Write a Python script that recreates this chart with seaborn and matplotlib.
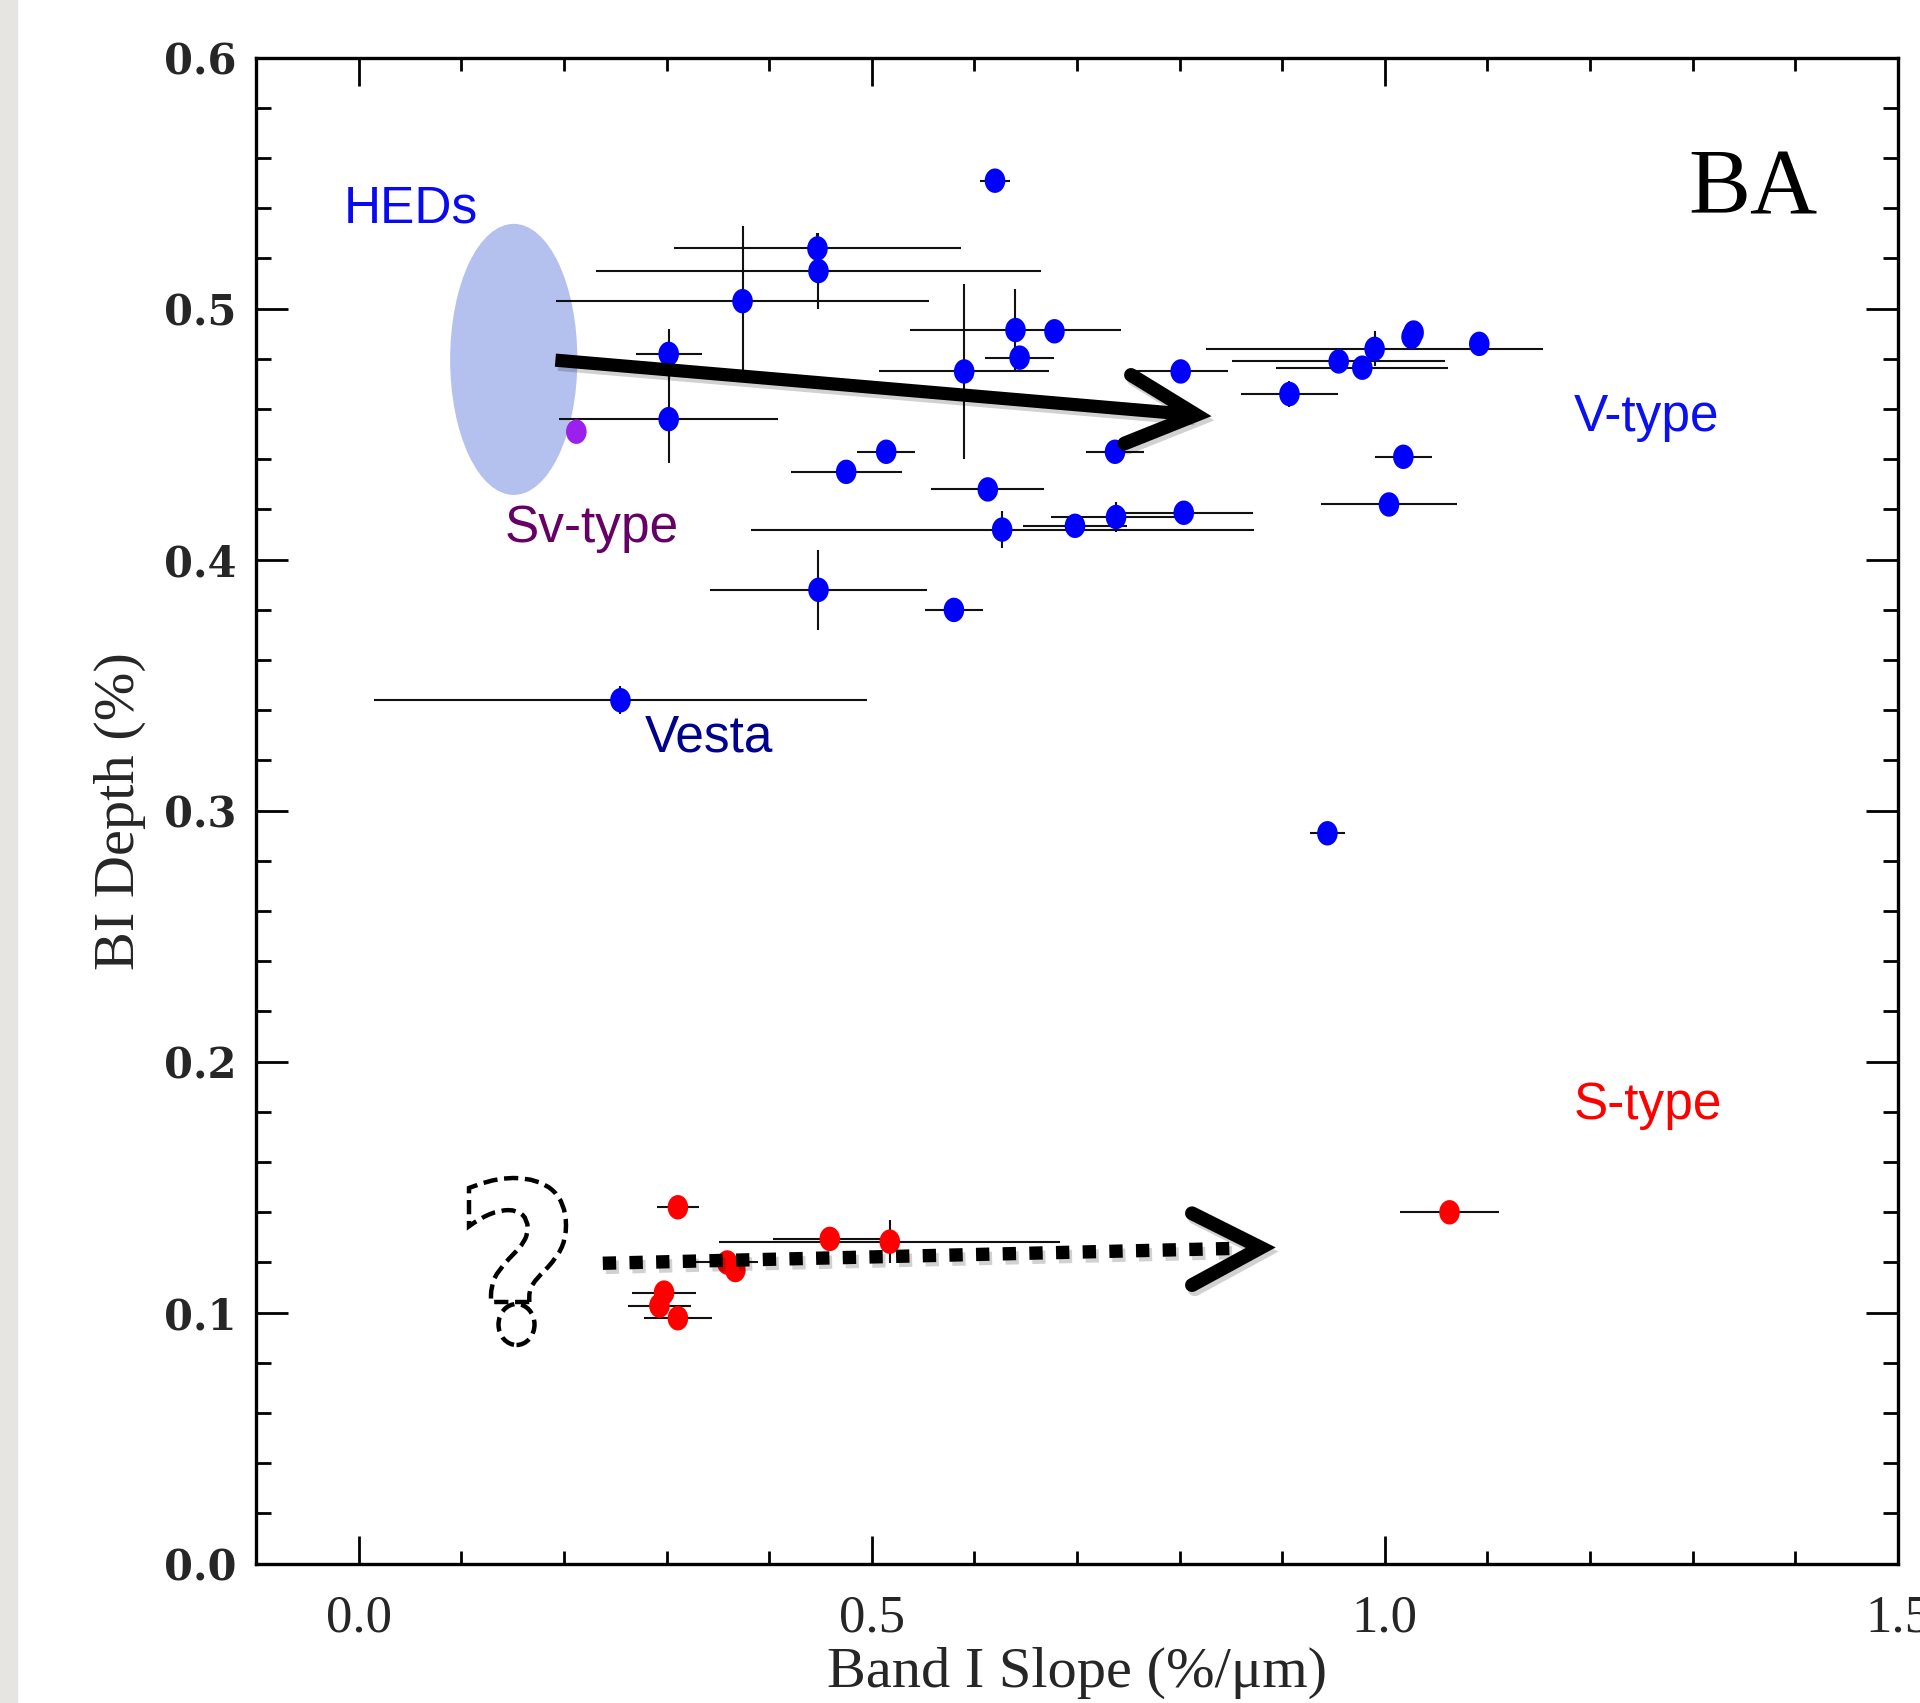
import matplotlib
matplotlib.use('Agg')
import matplotlib.pyplot as plt
import matplotlib.patheffects as pe
from matplotlib.patches import Ellipse, PathPatch, Rectangle
from matplotlib.path import Path
from matplotlib.textpath import TextPath
from matplotlib.font_manager import FontProperties
from matplotlib.transforms import Affine2D
from matplotlib.ticker import MultipleLocator, FormatStrFormatter
from matplotlib.markers import MarkerStyle
import seaborn as sns
import numpy as np
import pandas as pd

# V-type asteroids (blue)
blue_slope = [0.620, 0.447, 0.448, 0.374, 0.302, 0.302, 0.514, 0.475, 0.613, 0.627,
              0.698, 0.738, 0.590, 0.640, 0.678, 0.644, 0.737, 0.801, 0.907, 0.990,
              0.955, 0.978, 1.026, 1.028, 1.092, 1.018, 1.004, 0.804, 0.580, 0.448,
              0.255, 0.944]
blue_depth = [0.551, 0.524, 0.515, 0.503, 0.482, 0.456, 0.443, 0.435, 0.428, 0.412,
              0.4135, 0.417, 0.475, 0.4915, 0.491, 0.4805, 0.443, 0.475, 0.466, 0.484,
              0.479, 0.4765, 0.4888, 0.4905, 0.486, 0.441, 0.422, 0.4187, 0.380, 0.388,
              0.344, 0.291]
blue_slope_err = [0.015, 0.140, 0.217, 0.182, 0.032, 0.107, 0.0285, 0.054, 0.055, 0.245,
                  0.051, 0.063, 0.083, 0.103, 0.0, 0.034, 0.0285, 0.046, 0.047, 0.164,
                  0.104, 0.084, 0.0, 0.0, 0.0, 0.028, 0.066, 0.067, 0.028, 0.106,
                  0.240, 0.017]
blue_depth_err = [0.0, 0.006, 0.015, 0.030, 0.010, 0.0176, 0.0, 0.0, 0.0, 0.0075,
                  0.0, 0.006, 0.035, 0.0165, 0.0, 0.0, 0.0, 0.0, 0.005, 0.007,
                  0.0, 0.0, 0.0, 0.0, 0.0, 0.0, 0.0, 0.0, 0.0, 0.016,
                  0.0056, 0.0]

# S-type asteroids (red)
red_slope = [0.311, 0.459, 0.5175, 0.359, 0.367, 0.2975, 0.293, 0.311, 1.063]
red_depth = [0.142, 0.1294, 0.1283, 0.120, 0.117, 0.108, 0.1028, 0.0978, 0.140]
red_slope_err = [0.0205, 0.055, 0.166, 0.03, 0.0, 0.031, 0.031, 0.0335, 0.0485]
red_depth_err = [0.0, 0.0, 0.0086, 0.0, 0.0, 0.0, 0.0, 0.0, 0.0]

# Sv-type (purple)
sv_slope = [0.212]
sv_depth = [0.451]

x_ticks = [0.0, 0.5, 1.0, 1.5]
y_ticks = [0.0, 0.1, 0.2, 0.3, 0.4, 0.5, 0.6]

df = pd.DataFrame({
    'slope': blue_slope + red_slope + sv_slope,
    'depth': blue_depth + red_depth + sv_depth,
    'kind': ['V'] * len(blue_slope) + ['S'] * len(red_slope) + ['Sv'] * len(sv_slope),
})

sns.set_style('ticks')
plt.rcParams['font.family'] = ['Liberation Serif', 'DejaVu Serif']

fig = plt.figure(figsize=(19.2, 17.03), dpi=100)
fig.add_artist(Rectangle((0, 0), 17 / 1920, 1, transform=fig.transFigure,
                         color='#e6e5e1', zorder=0))
ax = fig.add_axes([0.13344, 0.08180, 0.85505, 0.88432])

# HED region
ax.add_patch(Ellipse((0.151, 0.4798), 0.124, 0.108, color='#b4c1ee', zorder=1, lw=0))

# error bars
ax.errorbar(blue_slope, blue_depth, xerr=blue_slope_err, yerr=blue_depth_err,
            fmt='none', ecolor='#111111', elinewidth=1.5, capsize=0, zorder=2)
ax.errorbar(red_slope, red_depth, xerr=red_slope_err, yerr=red_depth_err,
            fmt='none', ecolor='#111111', elinewidth=1.5, capsize=0, zorder=2)

# slightly tall elliptical markers
t = np.linspace(0, 2 * np.pi, 60)
ell = MarkerStyle(np.column_stack([0.84 * np.cos(t), np.sin(t)]))
sns.scatterplot(data=df, x='slope', y='depth', hue='kind',
                palette={'V': '#0000ff', 'S': '#ff0000', 'Sv': '#9b20ee'},
                marker=ell, s=310, linewidth=0, legend=False, ax=ax, zorder=4)

# arrows
shadow = [pe.SimpleLineShadow(offset=(2, -3), shadow_color='k', alpha=0.18), pe.Normal()]
ax.plot([0.1916, 0.812], [0.4795, 0.4578], color='k', lw=9.5,
        solid_capstyle='butt', zorder=5, path_effects=shadow)
ax.plot([0.7526, 0.816, 0.7462], [0.4736, 0.4577, 0.4463], color='k', lw=10,
        solid_capstyle='round', solid_joinstyle='miter', zorder=5, path_effects=shadow)

ax.plot([0.2378, 0.852], [0.1197, 0.1256], color='k', lw=9.6, ls=(0, (1.0, 1.0)),
        dash_capstyle='butt', zorder=5, path_effects=shadow)
ax.plot([0.812, 0.879, 0.812], [0.1396, 0.1259, 0.1110], color='k', lw=10,
        solid_capstyle='round', solid_joinstyle='miter', zorder=5, path_effects=shadow)

# dashed question mark: hook from the glyph outline, round dot below
qp = TextPath((0, 0), '?', size=100,
              prop=FontProperties(family='DejaVu Sans', weight='bold'))
polys = qp.to_polygons(closed_only=True)
dot_i = int(np.argmin([p[:, 1].max() for p in polys]))
hook = Path.make_compound_path(*[Path(p, closed=True) for i, p in enumerate(polys) if i != dot_i])
ext = hook.get_extents()
px = Affine2D().scale(1 / 100) + fig.dpi_scale_trans
qtr = (Affine2D().translate(-ext.x0, -ext.y0)
       .scale(97 / ext.width, 124 / ext.height)
       .translate(469, 1703 - 1302)) + px
qstyle = dict(fill=False, edgecolor='k', lw=3.2, ls=(0, (3.2, 1.5)), zorder=6)
fig.add_artist(PathPatch(hook, transform=qtr, **qstyle))
fig.add_artist(Ellipse((516.5, 1703 - 1324.5), 36, 41, transform=px, **qstyle))

# labels
lab = dict(family='Liberation Sans', fontsize=37, va='baseline', ha='left')
ax.text(-0.0144, 0.5343, 'HEDs', color='#0a0af2', **lab)
ax.text(0.1425, 0.4072, 'Sv-type', color='#660066', **lab)
ax.text(0.2789, 0.3235, 'Vesta', color='#00008f', **lab)
ax.text(1.1843, 0.4514, 'V-type', color='#0a10f0', **lab)
ax.text(1.1840, 0.1772, 'S-type', color='#ff0000', **lab)
ax.text(1.2954, 0.5381, 'BA', family='Liberation Serif', fontsize=67,
        va='baseline', ha='left', color='k')

ax.set_xlim(-0.1, 1.5)
ax.set_ylim(0.0, 0.6)
ax.set_xticks(x_ticks)
ax.set_yticks(y_ticks)
ax.xaxis.set_major_formatter(FormatStrFormatter('%.1f'))
ax.yaxis.set_major_formatter(FormatStrFormatter('%.1f'))
ax.xaxis.set_minor_locator(MultipleLocator(0.1))
ax.yaxis.set_minor_locator(MultipleLocator(0.02))
ax.tick_params(which='both', direction='in', top=True, right=True, color='k', width=2)
ax.xaxis.set_tick_params(which='major', length=20, pad=22)
ax.xaxis.set_tick_params(which='minor', length=9.6)
ax.yaxis.set_tick_params(which='major', length=23, pad=14)
ax.yaxis.set_tick_params(which='minor', length=11)
for lbl in ax.get_xticklabels():
    lbl.set_fontsize(38)
    lbl.set_family('Liberation Serif')
for lbl in ax.get_yticklabels():
    lbl.set_fontsize(30)
    lbl.set_family('DejaVu Serif')
    lbl.set_fontweight('bold')
for sp in ax.spines.values():
    sp.set_linewidth(2.4)
    sp.set_color('k')

ax.set_xlabel('Band I Slope (%/μm)', fontsize=42, va='top')
ax.xaxis.set_label_coords(0.5, -0.055)
ax.set_ylabel('BI Depth (%)', fontsize=42)
ax.yaxis.set_label_coords(-0.067, 0.5)

fig.savefig('out.png', dpi=100)
plt.close(fig)
